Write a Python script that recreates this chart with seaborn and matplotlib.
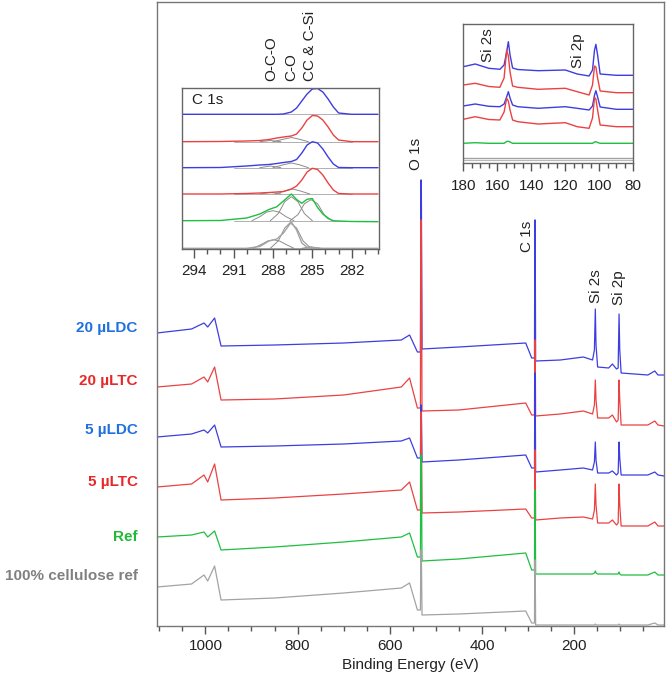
import matplotlib
matplotlib.use("Agg")
import matplotlib.pyplot as plt
import seaborn as sns
from matplotlib.ticker import MultipleLocator

sns.set_theme(style="white")
plt.rcParams["font.family"] = ["Liberation Sans", "DejaVu Sans"]

# ---------------- survey spectra (binding energy, intensity a.u.) ----------------
be_survey = [1105, 1030, 1003, 995, 980, 966, 850, 700, 575, 557, 540, 533.5, 532.5, 531.5,
             530, 450, 305, 292, 286, 285.3, 284.5, 283.5, 230, 180, 160, 156, 154, 152.5,
             149, 125, 117, 108, 104.5, 102.5, 101, 98, 40, 25, 18, 5]

int_20dc = [293, 297, 303, 299, 308, 280, 281, 283, 286, 291, 274, 274, 446, 446,
            277, 279, 283, 268, 268, 406, 406, 265, 266, 269, 266, 276, 317, 281,
            259, 258, 262, 257, 258, 312, 276, 253, 251, 255, 251, 251]
int_20tc = [239, 242, 249, 244, 259, 226, 227, 231, 239, 248, 218, 218, 406, 406,
            215, 216, 223, 211, 211, 286, 286, 210, 212, 215, 212, 221, 246, 226,
            208, 208, 211, 204, 206, 246, 226, 201, 201, 205, 201, 200]
int_5dc = [189, 192, 196, 193, 201, 179, 180, 182, 185, 188, 168, 168, 221, 221,
           164, 166, 171, 158, 158, 253, 253, 154, 156, 158, 156, 164, 184, 166,
           153, 153, 155, 151, 153, 184, 168, 151, 151, 154, 151, 150]
int_5tc = [139, 142, 151, 144, 162, 126, 128, 132, 136, 144, 116, 116, 214, 214,
           113, 114, 117, 108, 108, 176, 176, 106, 108, 109, 107, 116, 142, 121,
           103, 103, 106, 101, 103, 142, 121, 100, 100, 104, 100, 100]
int_ref = [89, 91, 94, 89, 95, 76, 79, 84, 89, 93, 69, 69, 171, 171,
           65, 67, 73, 56, 56, 136, 136, 52, 52, 52, 52, 53, 55, 53,
           52, 52, 52, 52, 52, 54, 52, 51, 51, 54, 51, 51]
int_cell = [39, 42, 51, 45, 60, 26, 28, 33, 38, 43, 16, 16, 76, 76,
            11, 12, 15, 3, 3, 66, 66, 1, 1, 1, 1, 1, 2, 1,
            1, 1, 1, 1, 1, 2, 1, 1, 1, 3, 1, 1]

sample_names = ["20 µLDC", "20 µLTC", "5 µLDC", "5 µLTC", "Ref", "100% cellulose ref"]
label_heights = [298, 245, 196, 144, 89, 50]   # where the sample names sit (a.u.)
survey_series = [int_20dc, int_20tc, int_5dc, int_5tc, int_ref, int_cell]

line_colors = ["#3d3de0", "#ea4242", "#3d3de0", "#ea4242", "#1fbf3f", "#a3a3a3"]
text_colors = ["#2070e0", "#e62828", "#2070e0", "#e62828", "#22b838", "#808080"]

survey_peaks = ["O 1s", "C 1s", "Si 2s", "Si 2p"]
survey_peak_be = [542, 302, 153.1, 103.6]
survey_peak_y = [456, 374, 323, 321]

# ---------------- C 1s high resolution ----------------
be_c1s = [295, 292, 290, 289, 288.3, 287.7, 287.2, 286.6, 286.2, 285.8, 285.4, 285.0,
          284.6, 284.2, 283.8, 283.4, 283.0, 282, 280]
c1s_20dc = [134.7, 134.7, 134.7, 134.7, 134.7, 134.7, 135, 137, 141, 148, 155, 160,
            160.5, 157, 150, 142, 136, 134.7, 134.7]
c1s_20tc = [107.3, 107.5, 108, 108.5, 109.5, 111, 112, 113, 115, 121, 129, 133.5,
            133, 129, 122, 114, 109, 107.3, 107.3]
c1s_5dc = [81.3, 81.5, 83, 84, 84.5, 85.5, 86.5, 87.5, 89.5, 96, 104, 107.3,
           106, 100, 92, 85, 81.5, 81.3, 81.3]
c1s_5tc = [55, 55, 55.5, 56, 56.5, 57, 57.5, 60, 63, 69, 77, 80.7,
           79.5, 74, 66, 59, 55.5, 55, 55]
c1s_ref = [28.3, 28.5, 31, 35, 39.5, 42.3, 48, 55, 49.5, 45.7, 49.7, 50.5,
           41.5, 35, 30.5, 28.3, 28, 27.5, 27.3]
c1s_cell = [0.7, 0.7, 0.7, 2.5, 8, 10, 16, 27, 19, 6, 1.7, 1.2,
            1, 0.7, 0.7, 0.7, 0.7, 0.7, 0.7]
c1s_series = [c1s_20dc, c1s_20tc, c1s_5dc, c1s_5tc, c1s_ref, c1s_cell]
c1s_base = [134.7, 107.3, 81.3, 55, 28.3, 0.7]
c1s_base_range = [291, 282]

# fitted components (BE, intensity)
fit_components = [
    ([288.0, 287.2, 286.6, 286.0, 285.3], [107.3, 109.8, 111.5, 109.8, 107.3]),
    ([289.0, 288.2, 287.4], [107.3, 108.5, 107.3]),
    ([288.0, 287.2, 286.6, 286.0, 285.3], [81.3, 84.3, 86.0, 84.3, 81.3]),
    ([289.0, 288.2, 287.4], [81.3, 83.0, 81.3]),
    ([287.8, 287.1, 286.5, 285.9, 285.2], [55, 58, 60, 58, 55]),
    ([289.0, 288.2, 287.4], [55, 56.5, 55]),
    ([289.6, 289.0, 288.5, 288.0, 287.5, 287.0, 286.4], [28.3, 32.3, 36.8, 38.3, 36.8, 32.3, 28.3]),
    ([288.2, 287.6, 287.1, 286.6, 286.1, 285.6, 285.0], [28.3, 35.3, 47.3, 52.3, 47.3, 35.3, 28.3]),
    ([286.7, 286.1, 285.6, 285.1, 284.6, 284.1, 283.5], [28.3, 34.3, 45.3, 49.3, 45.3, 34.3, 28.3]),
    ([289.5, 288.9, 288.4, 287.95, 287.5, 287.0, 286.4], [0.7, 4.5, 8, 9.2, 8, 4.5, 0.7]),
    ([288.2, 287.6, 287.1, 286.7, 286.2, 285.7, 285.1], [0.7, 8, 21, 26.3, 21, 8, 0.7]),
    ([285.8, 285.1, 284.4], [0.7, 2.2, 0.7]),
]
c1s_labels = ["O-C-O", "C-O", "CC & C-Si"]
c1s_label_be = [288.1, 286.6, 285.2]

# ---------------- Si 2s / Si 2p high resolution ----------------
be_si = [180, 173, 165, 158.5, 156, 154.5, 153.5, 152.5, 151, 148, 136, 120, 113, 106,
         104, 102.8, 102, 101, 99.5, 90, 80]
si_20dc = [96.6, 99.3, 95, 94, 98.3, 111.3, 121.6, 108.3, 95.3, 93.8, 92.6, 93.3, 89.3, 87.3,
           93.3, 113.3, 119, 108.3, 89.3, 88, 88]
si_20tc = [78.3, 80, 76.8, 76, 85.3, 113.3, 107.3, 91.3, 77.3, 76, 74, 75, 71.6, 68.3,
           78.3, 97.3, 96.3, 85.3, 72.3, 70.6, 70.6]
si_5dc = [57.3, 59.3, 57, 56.6, 59.3, 66.3, 71.6, 65.3, 58.3, 56.6, 55, 56.6, 55, 53.3,
          57.3, 68.3, 72.6, 66.3, 56.3, 54, 54]
si_5tc = [44, 46.6, 43.8, 43.3, 51.3, 65, 62.3, 53.3, 43.3, 41.6, 39.3, 40.6, 36.6, 35,
          45.3, 65.8, 64.3, 53.3, 38.3, 36.6, 36.6]
si_ref = [20, 20.6, 20, 20, 20, 21.8, 22, 21.3, 20, 20, 20, 20, 20, 20,
          20, 21.3, 21.6, 20.8, 20, 20, 20]
si_cell = [5.6] * len(be_si)
si_series = [si_20dc, si_20tc, si_5dc, si_5tc, si_ref, si_cell]
si_cell_base = 2.8
si_labels = ["Si 2s", "Si 2p"]
si_label_be = [165.3, 112.4]
si_label_y = [101.6, 95]

# ---------------- figure ----------------
fig = plt.figure(figsize=(6.66, 6.75), dpi=100)
tick_col = "#555555"
txt_col = "#222222"

ax = fig.add_axes([157 / 666, 1 - 626 / 675, 507 / 666, 624 / 675])
for ys, col in zip(survey_series, line_colors):
    sns.lineplot(x=be_survey, y=ys, ax=ax, color=col, lw=0.9, sort=False, estimator=None)
ax.set_xlim(1105, 5)
ax.set_ylim(0, 624)
ax.set_yticks([])
ax.set_ylabel("")
ax.xaxis.set_major_locator(MultipleLocator(200))
ax.xaxis.set_minor_locator(MultipleLocator(50))
ax.tick_params(axis="x", which="major", bottom=True, direction="out", length=6, width=1,
               color=tick_col, labelsize=11, labelcolor=txt_col, pad=3)
ax.tick_params(axis="x", which="minor", bottom=True, direction="out", length=3.5, width=1,
               color=tick_col)
ax.set_xlabel("Binding Energy (eV)", fontsize=11, color=txt_col, labelpad=4)
for s in ax.spines.values():
    s.set_color("#777777")
    s.set_linewidth(1.0)
for name, be, yv in zip(survey_peaks, survey_peak_be, survey_peak_y):
    ax.text(be, yv, name, rotation=90, ha="center", va="bottom", fontsize=11, color=txt_col)

for name, hy, col in zip(sample_names, label_heights, text_colors):
    ax.annotate(name, xy=(0, hy), xycoords=("axes fraction", "data"),
                xytext=(-14, 0), textcoords="offset points",
                ha="right", va="center", fontsize=11, fontweight="bold", color=col)

# ---- C 1s inset ----
ax1 = fig.add_axes([181.7 / 666, 1 - 249 / 675, 197.6 / 666, 161.3 / 675])
ax1.set_facecolor("white")
for lvl in c1s_base:
    sns.lineplot(x=c1s_base_range, y=[lvl, lvl], ax=ax1, color="#b0b0b0", lw=0.7,
                 sort=False, estimator=None)
for bx, by in fit_components:
    sns.lineplot(x=bx, y=by, ax=ax1, color="#8c8c8c", lw=0.7, sort=False, estimator=None)
for ys, col in zip(c1s_series, line_colors):
    sns.lineplot(x=be_c1s, y=ys, ax=ax1, color=col, lw=1.0, sort=False, estimator=None)
ax1.set_xlim(294.95, 279.9)
ax1.set_ylim(0, 161.3)
ax1.set_yticks([])
ax1.set_ylabel("")
ax1.xaxis.set_major_locator(MultipleLocator(3))
ax1.xaxis.set_minor_locator(MultipleLocator(1))
ax1.tick_params(axis="x", which="major", bottom=True, direction="out", length=6.5, width=1,
                color=tick_col, labelsize=11, labelcolor=txt_col, pad=4)
ax1.tick_params(axis="x", which="minor", bottom=True, direction="out", length=3.5, width=1,
                color=tick_col)
for s in ax1.spines.values():
    s.set_color("#666666")
    s.set_linewidth(1.0)
ax1.text(0.05, 0.925, "C 1s", transform=ax1.transAxes, ha="left", va="center",
         fontsize=11, color=txt_col)
for name, be in zip(c1s_labels, c1s_label_be):
    ax1.annotate(name, xy=(be, 1), xycoords=("data", "axes fraction"),
                 xytext=(0, 5), textcoords="offset points", rotation=90,
                 ha="center", va="bottom", fontsize=11, color=txt_col)

# ---- Si inset ----
ax2 = fig.add_axes([463.3 / 666, 1 - 163.3 / 675, 170 / 666, 139.3 / 675])
ax2.set_facecolor("white")
sns.lineplot(x=[be_si[0], be_si[-1]], y=[si_cell_base, si_cell_base], ax=ax2,
             color="#b8b8b8", lw=0.8, sort=False, estimator=None)
for ys, col in zip(si_series, line_colors):
    sns.lineplot(x=be_si, y=ys, ax=ax2, color=col, lw=1.0, sort=False, estimator=None)
ax2.set_xlim(180, 80)
ax2.set_ylim(0, 139.3)
ax2.set_yticks([])
ax2.set_ylabel("")
ax2.xaxis.set_major_locator(MultipleLocator(20))
ax2.xaxis.set_minor_locator(MultipleLocator(5))
ax2.tick_params(axis="x", which="major", bottom=True, direction="out", length=6, width=1,
                color=tick_col, labelsize=11, labelcolor=txt_col, pad=5)
ax2.tick_params(axis="x", which="minor", bottom=True, direction="out", length=3.5, width=1,
                color=tick_col)
for s in ax2.spines.values():
    s.set_color("#666666")
    s.set_linewidth(1.0)
for name, be, yv in zip(si_labels, si_label_be, si_label_y):
    ax2.text(be, yv, name, rotation=90, ha="center", va="bottom", fontsize=11, color=txt_col)

fig.savefig("out.png", dpi=100)
